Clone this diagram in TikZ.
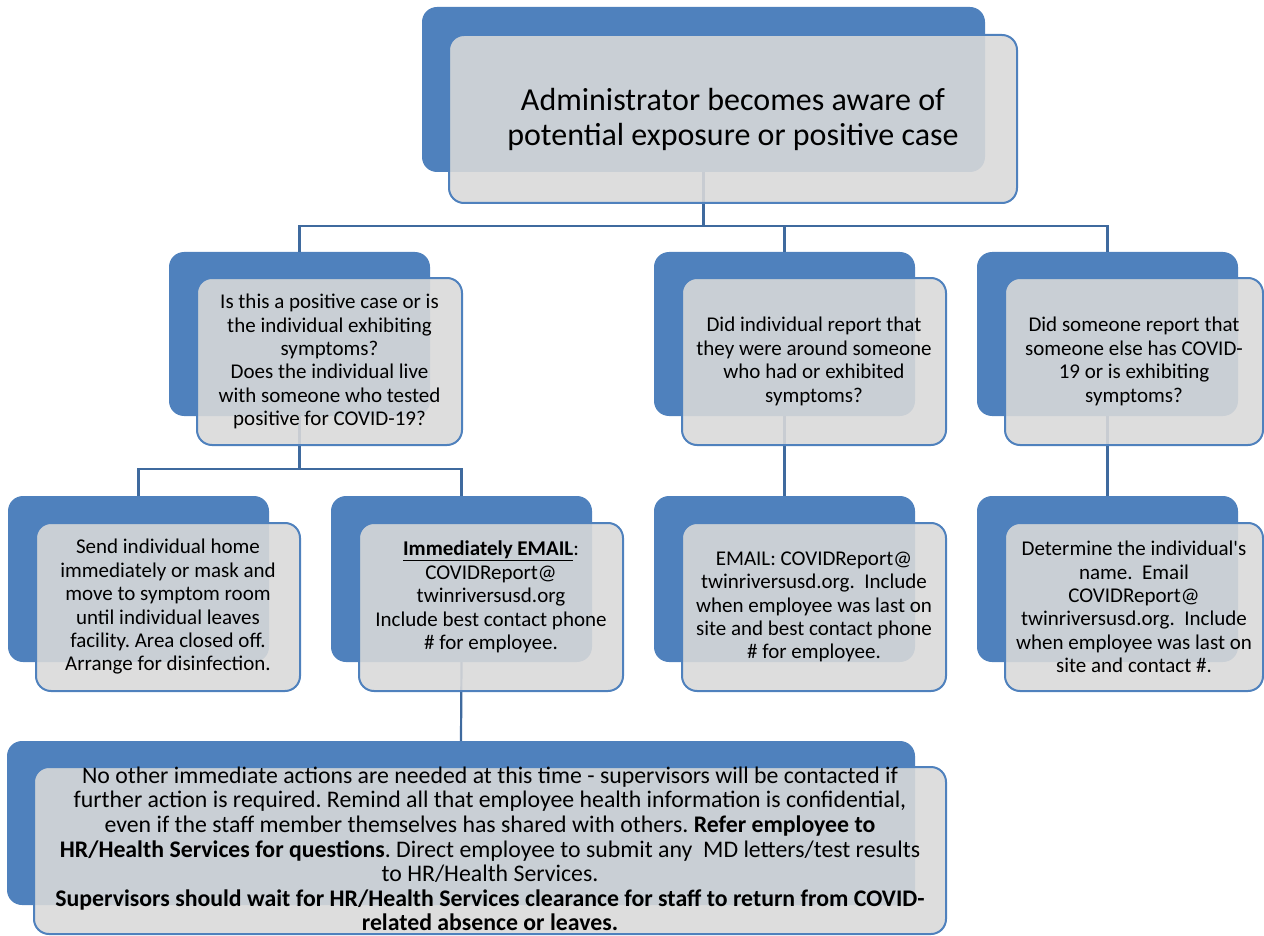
\documentclass[tikz,border=0pt]{standalone}
\usepackage{fontspec}
\setmainfont{Carlito}
\frenchspacing
\definecolor{accblue}{HTML}{4F81BD}
\definecolor{connblue}{HTML}{3F6A9E}
\definecolor{frontgray}{HTML}{D9D9D9}
\tikzset{
  backbox/.style={draw=none, fill=accblue, rounded corners=15pt, inner sep=0pt},
  frontbox/.style={draw=accblue, line width=2pt, fill=frontgray, fill opacity=0.89, text opacity=1, draw opacity=1, rounded corners=15pt, inner sep=0pt, align=center, font=\fontsize{21}{23.4}\selectfont},
  conn/.style={draw=connblue, line width=2.2pt},
  txt/.style={inner sep=0pt, align=center, font=\fontsize{21}{23.4}\selectfont}
}
\begin{document}
\begin{tikzpicture}[x=1pt,y=-1pt]
\useasboundingbox (0,0) rectangle (1264,936);
% back boxes
\node[backbox, minimum width=563pt, minimum height=165pt] (topB) at (703.5,89.5) {};
\node[backbox, minimum width=261pt, minimum height=164pt] (aB) at (299.5,334) {};
\node[backbox, minimum width=261pt, minimum height=164pt] (bB) at (784.5,334) {};
\node[backbox, minimum width=261pt, minimum height=164pt] (cB) at (1107.5,334) {};
\node[backbox, minimum width=261pt, minimum height=166pt] (dB) at (138.5,579) {};
\node[backbox, minimum width=261pt, minimum height=166pt] (eB) at (461.5,579) {};
\node[backbox, minimum width=261pt, minimum height=166pt] (gB) at (784.5,579) {};
\node[backbox, minimum width=261pt, minimum height=166pt] (hB) at (1107.5,579) {};
\node[backbox, minimum width=908pt, minimum height=164pt] (fB) at (461,823) {};
% connectors
\coordinate (j1) at (703.5,226);
\coordinate (j2) at (299.5,469);
\draw[conn] (topB.south) -- (j1) -| (aB.north);
\draw[conn] (j1) -| (bB.north);
\draw[conn] (j1) -| (cB.north);
\draw[conn] (aB.south) -- (j2) -| (dB.north);
\draw[conn] (j2) -| (eB.north);
\draw[conn] (bB.south) -- (gB.north);
\draw[conn] (cB.south) -- (hB.north);
\draw[conn] (eB.south) -- (fB.north);
% front boxes
\node[frontbox, minimum width=568pt, minimum height=168pt, font=\fontsize{32}{35}\selectfont] (topF) at (733,119)
  {Administrator becomes aware of\\potential exposure or positive case};
\node[frontbox, minimum width=265pt, minimum height=167pt] (aF) at (329.5,361.5)
  {Is this a positive case or is\\the individual exhibiting\\symptoms?\\Does the individual live\\with someone who tested\\positive for COVID-19?};
\node[frontbox, minimum width=264pt, minimum height=167pt] (bF) at (814,361.5)
  {Did individual report that\\they were around someone\\who had or exhibited\\symptoms?};
\node[frontbox, minimum width=258pt, minimum height=167pt] (cF) at (1134,361.5)
  {Did someone report that\\someone else has COVID-\\19 or is exhibiting\\symptoms?};
\node[frontbox, minimum width=264pt, minimum height=168pt] (dF) at (168,607)
  {Send individual home\\immediately or mask and\\move to symptom room\\until individual leaves\\facility. Area closed off.\\Arrange for disinfection.};
\node[frontbox, minimum width=264pt, minimum height=168pt] (eF) at (491,607) {};
\node[txt] (eT) at (491,597)
  {\underline{\textbf{Immediately EMAIL}}:\\COVIDReport@\\twinriversusd.org\\Include best contact phone\\\# for employee.};
\node[frontbox, minimum width=264pt, minimum height=168pt] (gF) at (814,607)
  {EMAIL: COVIDReport@\\twinriversusd.org.\ \ Include\\when employee was last on\\site and best contact phone\\\# for employee.};
\node[frontbox, minimum width=258pt, minimum height=168pt] (hF) at (1134,607)
  {Determine the individual\textquotesingle s\\name.\ \ Email\\COVIDReport@\\twinriversusd.org.\ \ Include\\when employee was last on\\site and contact \#.};
\node[frontbox, minimum width=912pt, minimum height=167pt] (fF) at (490,850.5) {};
\node[txt, font=\fontsize{23.8}{24.6}\selectfont] (fT) at (490,849)
  {No other immediate actions are needed at this time - supervisors will be contacted if\\
   further action is required. Remind all that employee health information is confidential,\\
   even if the staff member themselves has shared with others. \textbf{Refer employee to}\\
   \textbf{HR/Health Services for questions}. Direct employee to submit any\ \ MD letters/test results\\
   to HR/Health Services.\\
   \textbf{Supervisors should wait for HR/Health Services clearance for staff to return from COVID-}\\
   \textbf{related absence or leaves.}};
\end{tikzpicture}
\end{document}
